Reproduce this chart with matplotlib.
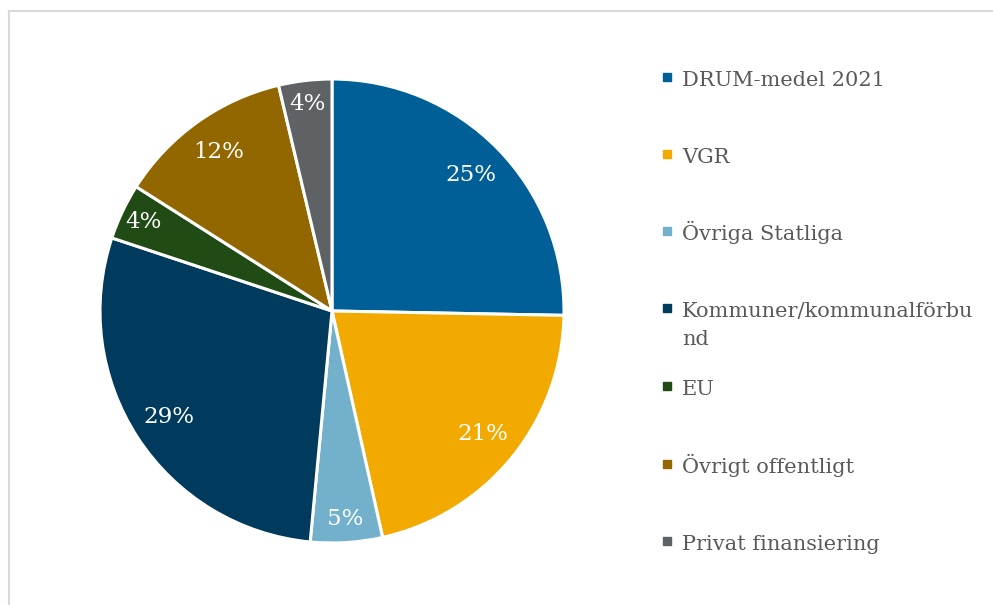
import numpy as np
import matplotlib.pyplot as plt
from matplotlib.lines import Line2D

# data
kategorier = ['DRUM-medel 2021', 'VGR', 'Övriga Statliga',
              'Kommuner/kommunalförbu\nnd', 'EU', 'Övrigt offentligt',
              'Privat finansiering']
andel = [25.3, 21.2, 5.0, 28.6, 3.9, 12.3, 3.7]
etiketter = ['25%', '21%', '5%', '29%', '4%', '12%', '4%']
farger = ['#005f96', '#f2a900', '#72b0cb', '#003a5d', '#214b14', '#926700', '#5e6264']

plt.rcParams['font.family'] = ['DejaVu Serif']

fig = plt.figure(figsize=(9.93, 6.05), dpi=100)
ax = fig.add_axes([0.1007, 0.1025, 0.4673, 0.7669])

wedges, texts = ax.pie(andel, colors=farger, startangle=90, counterclock=False,
                       wedgeprops=dict(edgecolor='white', linewidth=2.2))
for w, lab, v in zip(wedges, etiketter, andel):
    ang = np.deg2rad((w.theta1 + w.theta2) / 2)
    r = 0.9 if v < 6 else 0.84
    ax.text(r * np.cos(ang), r * np.sin(ang), lab, color='white',
            fontsize=16.5, ha='center', va='center')
ax.set_xlim(-1, 1)
ax.set_ylim(-1, 1)
ax.set_aspect('equal')

# legend by hand (baseline pixel rows)
baslinje = [86, 163, 240, 317, 395, 473, 550]
for y, lab, c in zip(baslinje, kategorier, farger):
    fig.add_artist(Line2D([667 / 993], [1 - (y - 9) / 605], marker='s', markersize=5.5,
                          color=c, transform=fig.transFigure))
    rader = lab.split('\n')
    for i, rad in enumerate(rader):
        fig.text(682 / 993, 1 - (y + 28 * i) / 605, rad, fontsize=15,
                 color='#595959', va='baseline', ha='left')

# frame lines
fig.add_artist(Line2D([9 / 993, 9 / 993], [0, 1 - 11 / 605], color='#d9d9d9',
                      lw=1.5, transform=fig.transFigure))
fig.add_artist(Line2D([9 / 993, 1], [1 - 11 / 605, 1 - 11 / 605], color='#d9d9d9',
                      lw=1.5, transform=fig.transFigure))

fig.savefig('out.png', dpi=100)
